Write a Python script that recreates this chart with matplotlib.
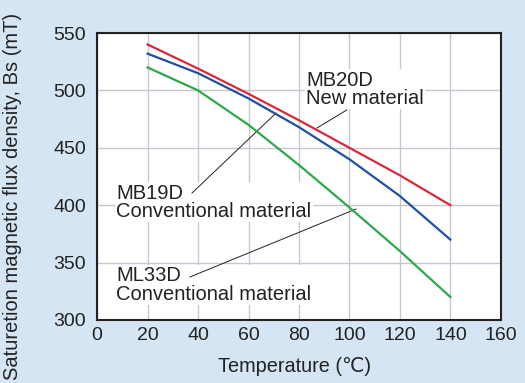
import matplotlib.pyplot as plt

# temperature (deg C) and saturation flux density (mT)
temp = [20, 40, 60, 80, 100, 120, 140]
mb20d = [540, 519, 497, 474, 450, 426, 400]
mb19d = [532, 515, 493, 468, 440, 408, 370]
ml33d = [520, 500, 470, 435, 398, 360, 320]

xticks = [0, 20, 40, 60, 80, 100, 120, 140, 160]
yticks = [300, 350, 400, 450, 500, 550]

plt.rcParams['font.family'] = ['Liberation Sans', 'DejaVu Sans']

bg = '#d5e5f4'
fig = plt.figure(figsize=(5.25, 3.83), dpi=100, facecolor=bg)
ax = fig.add_axes([0.185, 0.1645, 0.769, 0.7493])

ax.plot(temp, mb20d, color='#d9283c', lw=1.6, zorder=3)
ax.plot(temp, mb19d, color='#1f4fa6', lw=1.6, zorder=3)
ax.plot(temp, ml33d, color='#2fa84a', lw=1.6, zorder=3)

ax.set_xlim(0, 160)
ax.set_ylim(300, 550)
ax.set_xticks(xticks)
ax.set_yticks(yticks)
ax.tick_params(length=0, labelsize=14, colors='#222222')
ax.tick_params(axis='y', pad=8)
ax.tick_params(axis='x', pad=5)
ax.grid(color='#c4c8d2', lw=1.0, zorder=0)
for s in ax.spines.values():
    s.set_linewidth(1.5)
    s.set_color('#222222')

box = dict(facecolor='white', edgecolor='none', pad=1)
txt = dict(fontsize=14.5, color='#222222', linespacing=0.95, zorder=2)

ax.text(82.8, 501, 'MB20D\nNew material', va='center', ha='left', bbox=box, **txt)
ax.plot([99, 87.1], [483, 467.2], color='#222222', lw=0.7, zorder=2.5)

ax.text(7.5, 402.4, 'MB19D\nConventional material', va='center', ha='left', bbox=box, **txt)
ax.plot([37.6, 70.9], [410.6, 480.3], color='#222222', lw=0.7, zorder=2.5)

ax.text(7.5, 330.5, 'ML33D\nConventional material', va='center', ha='left', bbox=box, **txt)
ax.plot([36.8, 102.6], [337.5, 396.7], color='#222222', lw=0.7, zorder=2.5)

fig.text(0.023, 0.486, 'Saturetion magnetic flux density, Bs (mT)', rotation=90,
         ha='center', va='center', fontsize=14.5, color='#222222')
fig.text(0.562, 0.042, 'Temperature (℃)', ha='center', va='center',
         fontsize=14.3, color='#222222')

fig.savefig('out.png', dpi=100, facecolor=bg)
